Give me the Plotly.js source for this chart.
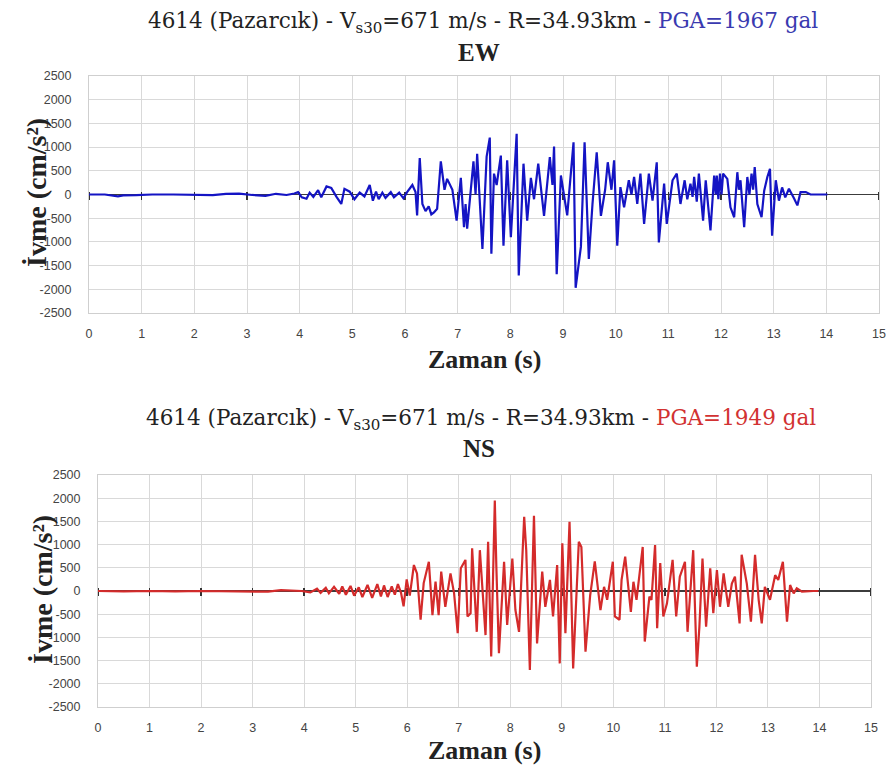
<!DOCTYPE html>
<html>
<head>
<meta charset="utf-8">
<script src="https://cdn.plot.ly/plotly-3.0.1.min.js"></script>
<style>
html,body{margin:0;padding:0;background:#fff;}
#chart{width:892px;height:770px;}
</style>
</head>
<body>
<div id="chart"></div>
<script>
// ---- Data ----
const ewTime = [0,0.3,0.55,0.65,0.9,1.2,1.6,2.0,2.35,2.6,2.85,3.1,3.35,3.55,3.75,3.9,3.97,4.04,4.13,4.19,4.26,4.35,4.41,4.51,4.60,4.70,4.79,4.85,4.95,5.04,5.14,5.23,5.33,5.39,5.45,5.50,5.57,5.63,5.73,5.79,5.89,5.97,6.04,6.14,6.20,6.23,6.28,6.33,6.39,6.45,6.50,6.55,6.61,6.68,6.75,6.80,6.90,6.98,7.06,7.12,7.15,7.18,7.30,7.34,7.37,7.47,7.55,7.61,7.64,7.69,7.74,7.82,7.87,7.94,8.01,8.12,8.16,8.25,8.32,8.39,8.45,8.53,8.64,8.75,8.80,8.83,8.88,8.96,9.08,9.20,9.24,9.34,9.41,9.49,9.56,9.64,9.72,9.80,9.85,9.92,9.97,10.03,10.09,10.16,10.25,10.30,10.35,10.41,10.47,10.54,10.63,10.70,10.78,10.82,10.92,10.97,11.08,11.16,11.23,11.31,11.36,11.42,11.46,11.49,11.54,11.58,11.66,11.71,11.80,11.87,11.90,11.92,11.95,11.98,12.01,12.04,12.12,12.18,12.25,12.31,12.34,12.37,12.44,12.50,12.54,12.58,12.61,12.64,12.69,12.77,12.82,12.88,12.93,12.97,13.04,13.10,13.16,13.22,13.29,13.39,13.45,13.51,13.61,13.70,14.02];
const ewAcc = [0,0,-40,-20,-15,0,0,0,-15,15,20,-10,-30,15,-10,20,50,-60,-90,40,-50,90,-60,170,140,-50,-200,120,60,-100,40,-40,200,-130,60,-100,40,-70,50,-60,40,-80,50,200,50,-440,770,-200,-350,-250,-420,-380,-300,700,100,330,100,-550,350,-690,-200,-720,700,0,860,-1150,800,1200,-1250,440,200,820,-1080,720,-900,1280,-1710,650,-550,350,-100,650,-450,790,200,1010,-1680,400,-440,1100,-1967,-1100,1100,-1360,-200,890,-450,100,680,100,720,-1080,155,-270,300,0,370,-200,440,-620,440,-130,680,-1010,230,-620,300,440,-200,300,-100,230,-50,370,-150,440,-550,300,-760,400,0,400,-100,440,0,440,330,-270,-480,470,100,300,-690,370,0,440,100,580,-200,-480,80,370,540,-870,300,-130,150,-60,120,-90,-230,50,50,0,0];

const nsTime = [0,0.5,1.0,1.5,2.0,2.5,3.0,3.3,3.55,3.75,3.95,4.12,4.25,4.32,4.42,4.48,4.58,4.68,4.74,4.81,4.90,4.97,5.06,5.13,5.23,5.32,5.42,5.49,5.55,5.62,5.70,5.76,5.82,5.88,5.93,5.99,6.05,6.13,6.19,6.26,6.32,6.42,6.49,6.55,6.61,6.66,6.74,6.84,6.91,6.98,7.04,7.13,7.17,7.23,7.26,7.35,7.41,7.52,7.57,7.63,7.70,7.73,7.78,7.88,7.94,8.04,8.10,8.17,8.27,8.31,8.38,8.46,8.52,8.62,8.68,8.77,8.83,8.91,8.96,9.01,9.07,9.15,9.22,9.33,9.38,9.46,9.55,9.64,9.75,9.82,9.88,9.99,10.03,10.12,10.16,10.23,10.29,10.34,10.39,10.45,10.57,10.61,10.70,10.74,10.81,10.85,10.91,10.97,11.04,11.15,11.22,11.29,11.39,11.44,11.55,11.62,11.67,11.73,11.80,11.88,11.94,12.01,12.07,12.14,12.23,12.30,12.36,12.45,12.49,12.59,12.67,12.75,12.82,12.88,12.94,13.04,13.14,13.20,13.29,13.37,13.43,13.50,13.56,13.66,13.88,13.98];
const nsAcc = [0,-10,0,-10,0,0,0,-15,20,10,0,-30,50,-40,70,-50,90,-60,100,-80,110,-100,80,-130,130,-150,150,-120,120,-130,100,-80,150,-40,-330,250,-100,560,380,-620,170,630,-520,200,-520,420,-340,380,-50,-910,490,670,-550,-480,920,-880,880,-950,1060,-1410,1949,520,-1340,630,-730,700,-410,-880,1600,880,-1700,1620,-1130,420,-340,240,-550,560,-1560,1030,-910,1490,-1670,1060,950,-1310,-100,640,-410,90,-190,630,-550,-620,240,740,90,-450,200,-190,950,-1090,-120,-190,990,-800,600,-550,-270,670,-550,310,630,-880,880,-1630,-770,700,-770,490,-480,450,-340,380,-340,160,310,-700,780,160,-660,780,-190,-700,90,-190,340,240,630,-660,130,-50,60,-15,0,0];

const xTicks = [0,1,2,3,4,5,6,7,8,9,10,11,12,13,14,15];
const yTicks = [2500,2000,1500,1000,500,0,-500,-1000,-1500,-2000,-2500];

const stationText = '4614 (Pazarcık) - V<sub>s30</sub>=671 m/s - R=34.93km - ';
const ewPGA = 'PGA=1967 gal';
const nsPGA = 'PGA=1949 gal';
const ewLabel = 'EW';
const nsLabel = 'NS';
const xTitle = 'Zaman (s)';
const yTitle = 'İvme (cm/s²)';

// ---- Layout ----
const W = 892, H = 770;
const px = v => v / W;
const py = v => 1 - v / H;

const topX = [px(89), px(879)], topY = [py(313), py(76)];
const botX = [px(98), px(871)], botY = [py(707), py(475)];

const gridCol = '#d9d9d9';
const tickFont = {family: 'Liberation Sans, Arial, sans-serif', size: 12.5, color: '#444'};
const serif = 'Liberation Serif, Times New Roman, serif';
const titleSerif = 'DejaVu Serif, Georgia, serif';

function xAx(dom, anchor) {
  return {domain: dom, anchor: anchor, range: [0, 15], tickvals: xTicks, ticktext: xTicks.map(String),
    showgrid: true, gridcolor: gridCol, gridwidth: 1, zeroline: false, showline: true, mirror: true,
    linecolor: '#cfcfcf', linewidth: 1, ticks: '', tickfont: tickFont, ticklabelstandoff: 9, fixedrange: true};
}
function yAx(dom, anchor) {
  return {domain: dom, anchor: anchor, range: [-2500, 2500], tickvals: yTicks, ticktext: yTicks.map(String),
    showgrid: true, gridcolor: gridCol, gridwidth: 1, zeroline: true, zerolinecolor: '#3c3c3c', zerolinewidth: 1.5,
    showline: true, mirror: true, linecolor: '#cfcfcf', linewidth: 1, ticks: '', tickfont: tickFont,
    ticklabelstandoff: 14, fixedrange: true};
}
// extra axis drawn across the zero line to give the crossing tick marks
function tickAx(over, dom) {
  return {overlaying: over, anchor: 'free', position: (dom[0] + dom[1]) / 2 + 4 / H, range: [0, 15], tickvals: xTicks,
    showticklabels: false, showgrid: false, zeroline: false, showline: false, ticks: 'outside', ticklen: 8,
    tickwidth: 1.5, tickcolor: '#333', layer: 'below traces', side: 'bottom', fixedrange: true};
}

const traces = [
  {x: ewTime, y: ewAcc, xaxis: 'x3', yaxis: 'y', type: 'scatter', mode: 'lines', opacity: 0,
   line: {width: 0}, hoverinfo: 'skip'},
  {x: nsTime, y: nsAcc, xaxis: 'x4', yaxis: 'y2', type: 'scatter', mode: 'lines', opacity: 0,
   line: {width: 0}, hoverinfo: 'skip'},
  {x: ewTime, y: ewAcc, xaxis: 'x', yaxis: 'y', type: 'scatter', mode: 'lines',
   line: {color: '#1414c4', width: 2.2}, hoverinfo: 'skip'},
  {x: nsTime, y: nsAcc, xaxis: 'x2', yaxis: 'y2', type: 'scatter', mode: 'lines',
   line: {color: '#d42b2b', width: 2.2}, hoverinfo: 'skip'}
];

const ann = (text, x, y, size, family, extra) => Object.assign({text: text, xref: 'paper', yref: 'paper', x: x, y: y,
  xanchor: 'center', yanchor: 'middle', showarrow: false, font: {family: family, size: size, color: '#222'}}, extra || {});

const layout = {
  width: W, height: H, margin: {l: 0, r: 0, t: 0, b: 0},
  paper_bgcolor: '#fff', plot_bgcolor: '#fff', showlegend: false,
  xaxis: xAx(topX, 'y'), yaxis: yAx(topY, 'x'),
  xaxis2: xAx(botX, 'y2'), yaxis2: yAx(botY, 'x2'),
  xaxis3: tickAx('x', topY),
  xaxis4: tickAx('x2', botY),
  annotations: [
    ann(stationText + '<span style="color:#3a3ab0">' + ewPGA + '</span>', px(483), py(22), 21.5, titleSerif),
    ann('<b>' + ewLabel + '</b>', px(479), py(52), 25, serif),
    ann('<b>' + xTitle + '</b>', px(484), py(360), 26, serif),
    ann('<b>' + yTitle + '</b>', px(37), py(193), 28, serif, {textangle: -90}),
    ann(stationText + '<span style="color:#d23232">' + nsPGA + '</span>', px(481), py(419), 21.5, titleSerif),
    ann('<b>' + nsLabel + '</b>', px(479), py(448), 25, serif),
    ann('<b>' + xTitle + '</b>', px(484), py(750), 26, serif),
    ann('<b>' + yTitle + '</b>', px(42), py(590), 28, serif, {textangle: -90})
  ]
};

Plotly.newPlot('chart', traces, layout, {staticPlot: true, displayModeBar: false});
</script>
</body>
</html>
